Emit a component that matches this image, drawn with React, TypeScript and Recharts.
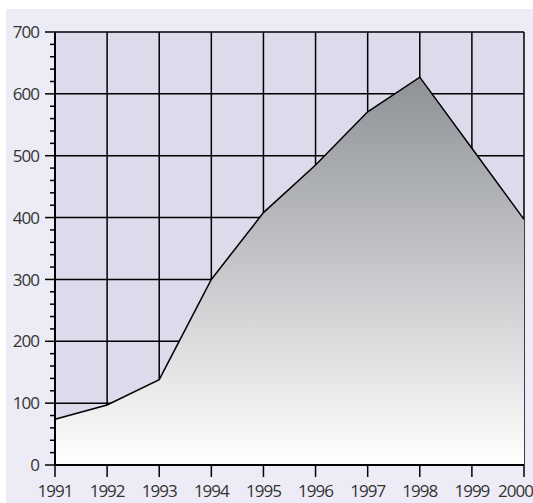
import { AreaChart, Area, XAxis, YAxis, CartesianGrid } from 'recharts';

const years = ['1991', '1992', '1993', '1994', '1995', '1996', '1997', '1998', '1999', '2000'];
const values = [74, 97, 138, 300, 408, 485, 571, 627, 512, 397];
const yTicks = [0, 20, 40, 60, 80, 100, 120, 140, 160, 180, 200, 220, 240, 260, 280, 300, 320, 340, 360, 380, 400, 420, 440, 460, 480, 500, 520, 540, 560, 580, 600, 620, 640, 660, 680, 700];
const yGrid = [100, 200, 300, 400, 500, 600, 700];

const data = years.map((year, i) => ({ year, value: values[i] }));

const FONT = '"Open Sans", sans-serif';

// major ticks every 100 get a label and a long mark, minor ones just a short mark
const YTick = (props: any) => {
  const { x, y, payload } = props;
  const major = payload.value % 100 === 0;
  return (
    <g>
      <line x1={x - (major ? 10 : 5)} y1={y} x2={x} y2={y} stroke="#000" strokeWidth={1.5} />
      {major && (
        <text x={x - 16} y={y} dy="0.36em" textAnchor="end" fill="#333" fontSize={17} fontFamily={FONT} letterSpacing={-1}>
          {payload.value}
        </text>
      )}
    </g>
  );
};

// last year label is pulled in so it stays inside the frame
const XTick = (props: any) => {
  const { x, y, payload, index } = props;
  const last = index === years.length - 1;
  return (
    <text x={last ? x + 9 : x} y={y + 8} dy="0.71em" textAnchor={last ? 'end' : 'middle'} fill="#333" fontSize={17} fontFamily={FONT} letterSpacing={-1}>
      {payload.value}
    </text>
  );
};

export default function App() {
  return (
    <div style={{ position: 'absolute', left: 6, top: 9, width: 527, height: 494, background: '#EDECF6' }}>
      <AreaChart width={527} height={494} data={data} margin={{ top: 23, right: 9, left: 0, bottom: 0 }}>
        <defs>
          <linearGradient id="areaFill" x1="0" y1="0" x2="0" y2="1">
            <stop offset="0%" stopColor="#8E9196" />
            <stop offset="100%" stopColor="#FFFFFF" />
          </linearGradient>
        </defs>
        <CartesianGrid fill="#DCDAEB" stroke="#000" strokeWidth={1.5} horizontalValues={yGrid} />
        <XAxis
          dataKey="year"
          height={38}
          tickSize={12}
          tickMargin={0}
          axisLine={{ stroke: '#000', strokeWidth: 2 }}
          tickLine={{ stroke: '#000', strokeWidth: 1.5 }}
          tick={<XTick />}
          interval={0}
        />
        <YAxis
          width={49}
          domain={[0, 700]}
          ticks={yTicks}
          interval={0}
          tickSize={0}
          tickMargin={0}
          tickLine={false}
          axisLine={{ stroke: '#000', strokeWidth: 2 }}
          tick={<YTick />}
        />
        <Area
          type="linear"
          dataKey="value"
          stroke="#000"
          strokeWidth={1.5}
          fill="url(#areaFill)"
          fillOpacity={1}
          isAnimationActive={false}
        />
      </AreaChart>
    </div>
  );
}
